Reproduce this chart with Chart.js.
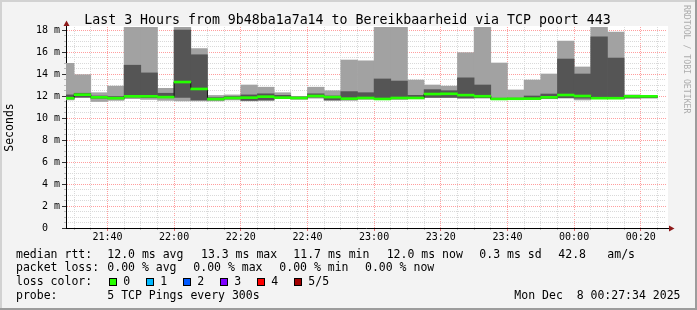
<!DOCTYPE html>
<html>
<head>
<meta charset="utf-8">
<script src="https://cdn.jsdelivr.net/npm/chart.js@4.4.1/dist/chart.umd.min.js"></script>
<style>
  html, body { margin: 0; padding: 0; background: #f3f3f3; }
</style>
</head>
<body>
<canvas id="smoke" width="697" height="310"></canvas>
<script>
// one bar per 5 minute step, named by the end of the step
const stepEnds = ["21:30", "21:35", "21:40", "21:45", "21:50", "21:55", "22:00", "22:05", "22:10",
  "22:15", "22:20", "22:25", "22:30", "22:35", "22:40", "22:45", "22:50", "22:55", "23:00",
  "23:05", "23:10", "23:15", "23:20", "23:25", "23:30", "23:35", "23:40", "23:45", "23:50",
  "23:55", "00:00", "00:05", "00:10", "00:15", "00:20", "00:25"];

// the 5 sorted pings of each step (ms)
const pingMin = [11.64, 11.85, 11.50, 11.60, 11.76, 11.70, 11.60, 11.55, 11.55, 11.55, 11.64, 11.55,
  11.57, 11.76, 11.70, 11.80, 11.60, 11.60, 11.70, 11.70, 11.70, 11.75, 11.85, 11.85, 11.76, 11.80,
  11.70, 11.70, 11.70, 11.75, 11.80, 11.64, 11.75, 11.75, 11.76, 11.80];
const pingLow = [11.78, 11.90, 11.80, 11.75, 11.90, 11.85, 11.85, 11.88, 11.64, 11.65, 11.75, 11.60,
  11.65, 11.80, 11.75, 11.90, 11.64, 11.70, 11.75, 11.72, 11.75, 11.78, 11.88, 11.88, 11.85, 11.85,
  11.72, 11.72, 11.73, 11.80, 11.85, 11.80, 11.78, 11.78, 11.85, 11.85];
const pingMedian = [11.80, 12.12, 11.88, 11.80, 11.97, 11.97, 11.90, 13.27, 12.64, 11.72, 11.82, 11.85,
  11.94, 11.85, 11.82, 12.00, 11.90, 11.76, 11.82, 11.73, 11.82, 11.82, 12.18, 12.20, 12.08, 11.98,
  11.73, 11.75, 11.76, 11.88, 12.09, 12.00, 11.80, 11.80, 11.97, 11.97];
const pingHigh = [12.10, 12.25, 12.00, 11.95, 14.80, 14.10, 12.25, 18.00, 15.75, 11.85, 11.95, 12.10,
  12.20, 12.06, 11.90, 12.20, 12.00, 12.40, 12.30, 13.55, 13.36, 12.06, 12.58, 12.48, 13.65, 13.00,
  11.80, 11.80, 12.00, 12.18, 15.36, 14.00, 17.38, 15.45, 12.06, 11.98];
const pingMax = [14.97, 13.94, 12.30, 12.90, 20.50, 19.80, 12.70, 18.90, 16.30, 12.05, 12.10, 13.00,
  12.80, 12.30, 11.97, 12.80, 12.48, 15.27, 15.20, 19.60, 20.20, 13.45, 13.00, 12.90, 15.94, 19.00,
  15.00, 12.55, 13.45, 14.00, 17.00, 14.64, 19.40, 17.80, 12.10, 12.00];

const xTicks = ["21:40", "22:00", "22:20", "22:40", "23:00", "23:20", "23:40", "00:00", "00:20"];
const rangeStart = "21:27:34";
const rangeEnd = "00:27:34";
const yTop = 201 / 11;

const titleText = "Last 3 Hours from 9b48ba1a7a14 to Bereikbaarheid via TCP poort 443";
const rttStats = ["12.0 ms avg", "13.3 ms max", "11.7 ms min", "12.0 ms now", "0.3 ms sd", "42.8", "am/s"];
const lossStats = ["0.00 % avg", "0.00 % max", "0.00 % min", "0.00 % now"];
const lossLabels = ["0", "1", "2", "3", "4", "5/5"];
const lossColors = ["#26ff00", "#00b8ff", "#0059ff", "#7e00ff", "#ff0000", "#a10000"];
const probeText = "5 TCP Pings every 300s";
const stampText = "Mon Dec  8 00:27:34 2025";

const MONO = '"DejaVu Sans Mono", monospace';
Chart.defaults.font.family = MONO;

// minutes since midnight of the first day
function toMinutes(s) {
  const p = s.split(':').map(Number);
  let h = p[0];
  if (h < 12) h += 24;
  return h * 60 + p[1] + (p[2] || 0) / 60;
}
function fmtTime(v) {
  const m = Math.round(v) % 1440;
  return String(Math.floor(m / 60)).padStart(2, '0') + ':' + String(m % 60).padStart(2, '0');
}

const mid = stepEnds.map(t => toMinutes(t) - 2.5);
const outer = mid.map((x, i) => ({ x: x, y: [pingMin[i], pingMax[i]] }));
const inner = mid.map((x, i) => ({ x: x, y: [pingLow[i], pingHigh[i]] }));
const medianBand = mid.map((x, i) => ({ x: x, y: [pingMedian[i] - 0.09, pingMedian[i] + 0.09] }));
const medianLine = mid.map((x, i) => ({ x: x, y: pingMedian[i] }));

const minorGrid = '#d9d9d9';
const majorGrid = 'rgba(255,0,0,0.38)';

const rrdDecor = {
  id: 'rrdDecor',
  beforeDraw(chart) {
    const ctx = chart.ctx, a = chart.chartArea;
    ctx.save();
    ctx.fillStyle = '#f3f3f3';
    ctx.fillRect(0, 0, 697, 310);
    ctx.fillStyle = '#d2d2d2';
    ctx.fillRect(0, 0, 697, 2);
    ctx.fillRect(0, 0, 2, 310);
    ctx.fillStyle = '#9c9c9c';
    ctx.fillRect(0, 308, 697, 2);
    ctx.fillRect(695, 0, 2, 310);
    ctx.fillStyle = '#ffffff';
    ctx.fillRect(a.left, a.top - 1, a.width + 2, a.height + 1);
    ctx.restore();
  },
  afterDraw(chart) {
    const ctx = chart.ctx, a = chart.chartArea;
    ctx.save();
    // axis arrows
    ctx.strokeStyle = '#000';
    ctx.lineWidth = 1;
    ctx.beginPath();
    ctx.moveTo(a.left + 0.5, a.top);
    ctx.lineTo(a.left + 0.5, 24);
    ctx.moveTo(a.right, a.bottom + 0.5);
    ctx.lineTo(670, a.bottom + 0.5);
    ctx.stroke();
    ctx.fillStyle = '#8e1a1a';
    ctx.beginPath();
    ctx.moveTo(a.left + 0.5, 20.5);
    ctx.lineTo(a.left - 2.5, 26);
    ctx.lineTo(a.left + 3.5, 26);
    ctx.closePath();
    ctx.fill();
    ctx.beginPath();
    ctx.moveTo(674.5, a.bottom + 0.5);
    ctx.lineTo(669, a.bottom - 2.5);
    ctx.lineTo(669, a.bottom + 3.5);
    ctx.closePath();
    ctx.fill();

    // title
    ctx.fillStyle = '#000';
    ctx.textBaseline = 'alphabetic';
    ctx.textAlign = 'center';
    ctx.font = '13.25px ' + MONO;
    ctx.fillText(titleText, 347.5, 23.7);

    // legend block
    ctx.textAlign = 'left';
    ctx.font = '11.5px ' + MONO;
    const rowY = [257.6, 271.4, 285.3, 299.2];
    const rttX = [107.3, 201, 293.3, 386.7, 479.3, 558.3, 607.3];
    const lossX = [107.3, 193.3, 279.3, 365];
    ctx.fillText('median rtt:', 16, rowY[0]);
    rttStats.forEach((s, i) => ctx.fillText(s, rttX[i], rowY[0]));
    ctx.fillText('packet loss:', 16, rowY[1]);
    lossStats.forEach((s, i) => ctx.fillText(s, lossX[i], rowY[1]));
    ctx.fillText('loss color:', 16, rowY[2]);
    lossLabels.forEach((s, i) => {
      const bx = 109 + 37 * i;
      ctx.fillStyle = lossColors[i];
      ctx.fillRect(bx, 278, 8, 8);
      ctx.strokeStyle = '#000';
      ctx.strokeRect(bx + 0.5, 278.5, 7, 7);
      ctx.fillStyle = '#000';
      ctx.fillText(s, bx + 14.3, rowY[2]);
    });
    ctx.fillText('probe:', 16, rowY[3]);
    ctx.fillText(probeText, 107.3, rowY[3]);
    ctx.textAlign = 'right';
    ctx.fillText(stampText, 680.5, rowY[3]);

    // watermark
    ctx.translate(686.5, 5);
    ctx.rotate(Math.PI / 2);
    ctx.textAlign = 'left';
    ctx.textBaseline = 'middle';
    ctx.font = '8.2px ' + MONO;
    ctx.fillStyle = '#acacac';
    ctx.fillText('RRDTOOL / TOBI OETIKER', 0, 0);
    ctx.restore();
  }
};

new Chart(document.getElementById('smoke'), {
  type: 'bar',
  data: {
    datasets: [
      { label: 'median', data: medianBand, backgroundColor: lossColors[0], order: 0,
        grouped: false, barPercentage: 1, categoryPercentage: 1, xAxisID: 'x', yAxisID: 'y' },
      { type: 'line', label: 'median step', data: medianLine, borderColor: '#111', borderWidth: 1,
        stepped: 'middle', pointRadius: 0, fill: false, order: 1, xAxisID: 'x', yAxisID: 'y' },
      { label: 'ping 2-4', data: inner, backgroundColor: '#555555', order: 2,
        grouped: false, barPercentage: 1, categoryPercentage: 1, xAxisID: 'x', yAxisID: 'y' },
      { label: 'ping 1-5', data: outer, backgroundColor: '#a2a2a2', order: 3,
        grouped: false, barPercentage: 1, categoryPercentage: 1, xAxisID: 'x', yAxisID: 'y' }
    ]
  },
  options: {
    responsive: false,
    devicePixelRatio: 1,
    animation: false,
    events: [],
    layout: { padding: { top: 27, right: 31, left: 0, bottom: 0 } },
    plugins: { legend: { display: false }, title: { display: false }, tooltip: { enabled: false } },
    scales: {
      xm: {
        type: 'linear', axis: 'x', position: 'bottom', weight: 0, display: true, offset: false,
        min: toMinutes(rangeStart), max: toMinutes(rangeEnd),
        afterBuildTicks: s => { s.ticks = stepEnds.map(t => ({ value: toMinutes(t) })); },
        afterFit: s => { s.height = 0; },
        ticks: { display: false },
        grid: { offset: false, tickLength: 2,
          color: c => (Math.round(c.tick.value) % 20 === 0 ? 'rgba(0,0,0,0)' : minorGrid),
          tickColor: '#bbbbbb' },
        border: { display: false, dash: [1, 1] }
      },
      x: {
        type: 'linear', axis: 'x', position: 'bottom', weight: 1, offset: false,
        min: toMinutes(rangeStart), max: toMinutes(rangeEnd),
        afterBuildTicks: s => { s.ticks = xTicks.map(t => ({ value: toMinutes(t) })); },
        afterFit: s => { s.height = 82; },
        ticks: { autoSkip: false, maxRotation: 0, padding: 0, color: '#000',
          font: { size: 10 }, callback: v => fmtTime(v) },
        grid: { offset: false, color: majorGrid, tickLength: 3, tickColor: '#e06a6a' },
        border: { display: true, color: '#000', width: 1, dash: [1, 1] }
      },
      ym: {
        type: 'linear', axis: 'y', position: 'left', weight: 0, display: true,
        min: 0, max: yTop,
        afterFit: s => { s.width = 0; },
        ticks: { display: false, stepSize: 0.5, includeBounds: false },
        grid: { tickLength: 2,
          color: c => (Math.round(c.tick.value * 2) % 4 === 0 ? 'rgba(0,0,0,0)' : minorGrid),
          tickColor: '#bbbbbb' },
        border: { display: false, dash: [1, 1] }
      },
      y: {
        type: 'linear', axis: 'y', position: 'left', weight: 1,
        min: 0, max: yTop,
        afterFit: s => { s.width = 66; },
        ticks: { stepSize: 2, includeBounds: false, padding: 2, color: '#000', font: { size: 10 },
          callback: v => (v === 0 ? '0  ' : v + ' m') },
        grid: { color: majorGrid, tickLength: 4, tickColor: '#333' },
        border: { display: true, color: '#000', width: 1, dash: [1, 1] },
        title: { display: true, text: 'Seconds', color: '#000', font: { size: 11.5 },
          padding: { top: 2.7, bottom: 0 } }
      }
    }
  },
  plugins: [rrdDecor]
});
</script>
</body>
</html>
